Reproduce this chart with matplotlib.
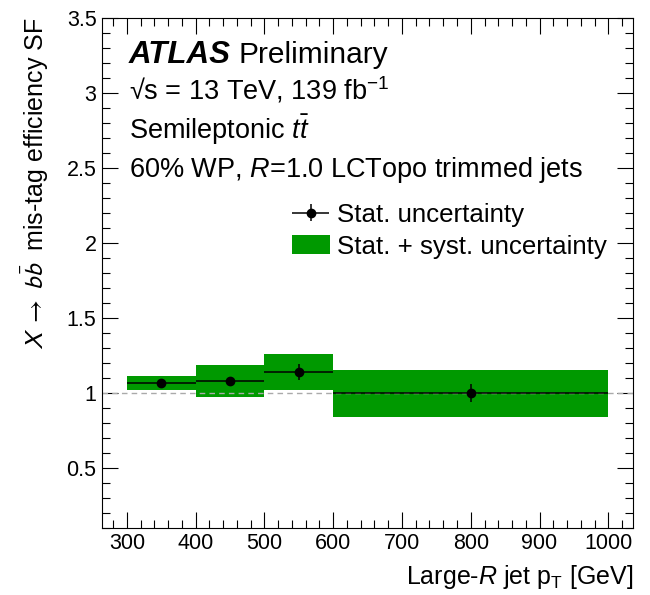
import matplotlib
matplotlib.use("Agg")
import matplotlib.pyplot as plt
from matplotlib.patches import Patch
from matplotlib.container import ErrorbarContainer
from matplotlib.legend_handler import HandlerErrorbar
from matplotlib.ticker import MultipleLocator

plt.rcParams['font.family'] = ['Liberation Sans', 'DejaVu Sans']
plt.rcParams['mathtext.fontset'] = 'custom'
plt.rcParams['mathtext.rm'] = 'Liberation Sans'
plt.rcParams['mathtext.it'] = 'Liberation Sans:italic'
plt.rcParams['mathtext.bf'] = 'Liberation Sans:bold'

# Data
bin_lo = [300, 400, 500, 600]
bin_hi = [400, 500, 600, 1000]
bin_center = [350, 450, 550, 800]
sf = [1.065, 1.078, 1.138, 0.998]
stat_err = [0.015, 0.02, 0.052, 0.06]
tot_up = [1.113, 1.187, 1.258, 1.153]
tot_dn = [1.018, 0.971, 1.018, 0.840]

green = '#009900'

fig = plt.figure(figsize=(6.5, 5.95), dpi=100)
ax = fig.add_axes([0.157, 0.113, 0.817, 0.857])

widths = [h - l for l, h in zip(bin_lo, bin_hi)]
heights = [u - d for u, d in zip(tot_up, tot_dn)]
ax.bar(bin_lo, heights, width=widths, bottom=tot_dn, align='edge',
       color=green, edgecolor='none', zorder=1)

ax.axhline(1.0, color='#aaaaaa', ls=(0, (4, 3)), lw=1.0, zorder=2)

xerr_lo = [c - l for c, l in zip(bin_center, bin_lo)]
xerr_hi = [h - c for c, h in zip(bin_center, bin_hi)]
eb = ax.errorbar(bin_center, sf, xerr=[xerr_lo, xerr_hi], yerr=stat_err,
                 fmt='o', color='black', ms=6, lw=1.1, capsize=0, zorder=3)

ax.set_xlim(264, 1036)
ax.set_ylim(0.1, 3.5)
ax.xaxis.set_major_locator(MultipleLocator(100))
ax.xaxis.set_minor_locator(MultipleLocator(20))
ax.yaxis.set_minor_locator(MultipleLocator(0.1))
ax.set_yticks([0.5, 1, 1.5, 2, 2.5, 3, 3.5])
ax.set_yticklabels(['0.5', '1', '1.5', '2', '2.5', '3', '3.5'])
ax.tick_params(which='both', direction='in', top=True, right=True,
               labelsize=15.5, width=0.8)
ax.tick_params(which='major', length=11.5, pad=4)
ax.tick_params(which='minor', length=5.5)
for s in ax.spines.values():
    s.set_linewidth(0.8)

ax.set_xlabel(r'Large-$R$ jet p$_{\mathregular{T}}$ [GeV]', fontsize=18,
              loc='right', labelpad=6)
ax.set_ylabel(r'$X\ \rightarrow\ b\bar{b}$  mis-tag efficiency SF', fontsize=18,
              loc='top', labelpad=11, math_fontfamily='stixsans')

fs = 19.5
ax.text(0.051, 0.912, 'ATLAS', transform=ax.transAxes, fontsize=22.5,
        fontweight='bold', fontstyle='italic', va='baseline')
ax.text(0.257, 0.912, 'Preliminary', transform=ax.transAxes, fontsize=21.5,
        va='baseline')
ax.text(0.051, 0.839, '√s = 13 TeV, 139 fb$^{\\mathregular{-1}}$',
        transform=ax.transAxes, fontsize=fs, va='baseline')
ax.text(0.051, 0.763, r'Semileptonic $t\bar{t}$', transform=ax.transAxes,
        fontsize=fs, va='baseline')
ax.text(0.051, 0.688, r'60% WP, $R$=1.0 LCTopo trimmed jets',
        transform=ax.transAxes, fontsize=fs, va='baseline')

handles = [eb, Patch(facecolor=green, edgecolor='none')]
labels = ['Stat. uncertainty', 'Stat. + syst. uncertainty']
ax.legend(handles, labels, loc='upper left', bbox_to_anchor=(0.358, 0.637),
          frameon=False, fontsize=18.6, handlelength=1.45, handleheight=0.77,
          handletextpad=0.3, labelspacing=0.3, borderaxespad=0, borderpad=0,
          handler_map={ErrorbarContainer: HandlerErrorbar(xerr_size=0.72,
                                                          yerr_size=0.33)})

fig.savefig('out.png', dpi=100)
